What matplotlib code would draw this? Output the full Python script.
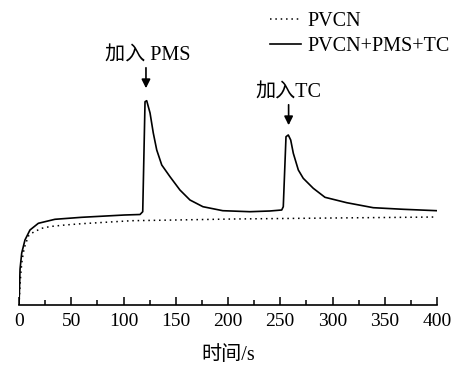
import matplotlib
matplotlib.use('Agg')
import matplotlib.pyplot as plt
from matplotlib.ticker import MultipleLocator

plt.rcParams['font.family'] = ['Liberation Serif', 'Noto Sans CJK SC']
plt.rcParams['font.size'] = 14.5

# 时间 (s) 与相对强度 (任意单位)
t_pvcn = [0, 0.5, 1, 2, 3, 5, 9, 14, 21.7, 30, 44, 60, 76, 108, 150, 205, 300, 400]
y_pvcn = [0, 10, 20, 35, 45, 57, 69, 73, 76.7, 78.5, 80, 81.3, 82.3, 84.3, 85, 86, 87, 88]

t_mix = [0, 0.3, 0.7, 1, 2.6, 5.7, 10.5, 18.5, 34.4, 60, 101, 115.8, 118.4,
         120.6, 122.2, 125.4, 128.5, 131.8, 136.6, 144.5, 154, 163.6, 176,
         195, 221, 240, 251.4, 252.9, 255.5, 257.7, 260, 262.5, 267.3, 272,
         281.6, 292.8, 313.6, 339, 367.8, 400]
y_mix = [0, 10, 25, 36, 52, 65, 75, 81.7, 85.7, 87.7, 90, 90.5, 93.3,
         203.3, 204.3, 192, 172, 155, 140, 128.3, 115, 105, 98.3,
         94.3, 93.3, 94, 95, 98.3, 168.3, 170, 165, 151.7, 135, 126.7,
         116.7, 107.7, 102.3, 97.3, 95.7, 94.3]

fig = plt.figure(figsize=(4.51, 3.65), dpi=100)
ax = fig.add_axes([19 / 451, 60 / 365, 418 / 451, 305 / 365])

ax.plot(t_pvcn, y_pvcn, color='k', linestyle=(0, (1, 2.5)), linewidth=1.1, label='PVCN')
ax.plot(t_mix, y_mix, color='k', linestyle='-', linewidth=1.2, label='PVCN+PMS+TC')

ax.set_xlim(0, 400)
ax.set_ylim(0, 305)
for s in ['left', 'top', 'right']:
    ax.spines[s].set_visible(False)
ax.spines['bottom'].set_linewidth(1.2)
ax.set_yticks([])
ax.xaxis.set_major_locator(MultipleLocator(50))
ax.xaxis.set_minor_locator(MultipleLocator(25))
ax.tick_params(axis='x', which='major', direction='in', length=6, width=1.1, pad=6,
               labelsize=14)
ax.tick_params(axis='x', which='minor', direction='in', length=3.5, width=1.1)
ax.set_xlabel('时间/s', labelpad=11)

# 加入 PMS / 加入TC 标注
ax.text(123.4, 249, '加入 PMS', ha='center', va='center')
ax.annotate('', xy=(121.5, 214), xytext=(121.5, 240),
            arrowprops=dict(arrowstyle='-|>', color='k', lw=1.2, mutation_scale=13))
ax.text(258, 212, '加入TC', ha='center', va='center')
ax.annotate('', xy=(258, 177), xytext=(258, 203),
            arrowprops=dict(arrowstyle='-|>', color='k', lw=1.2, mutation_scale=13))

ax.legend(loc='upper left', bbox_to_anchor=(270 / 451, 1 - 12 / 365),
          bbox_transform=fig.transFigure, frameon=False, borderpad=0,
          borderaxespad=0, handlelength=1.55, handletextpad=0.3, labelspacing=0.3)

fig.savefig('out.png', dpi=100)
